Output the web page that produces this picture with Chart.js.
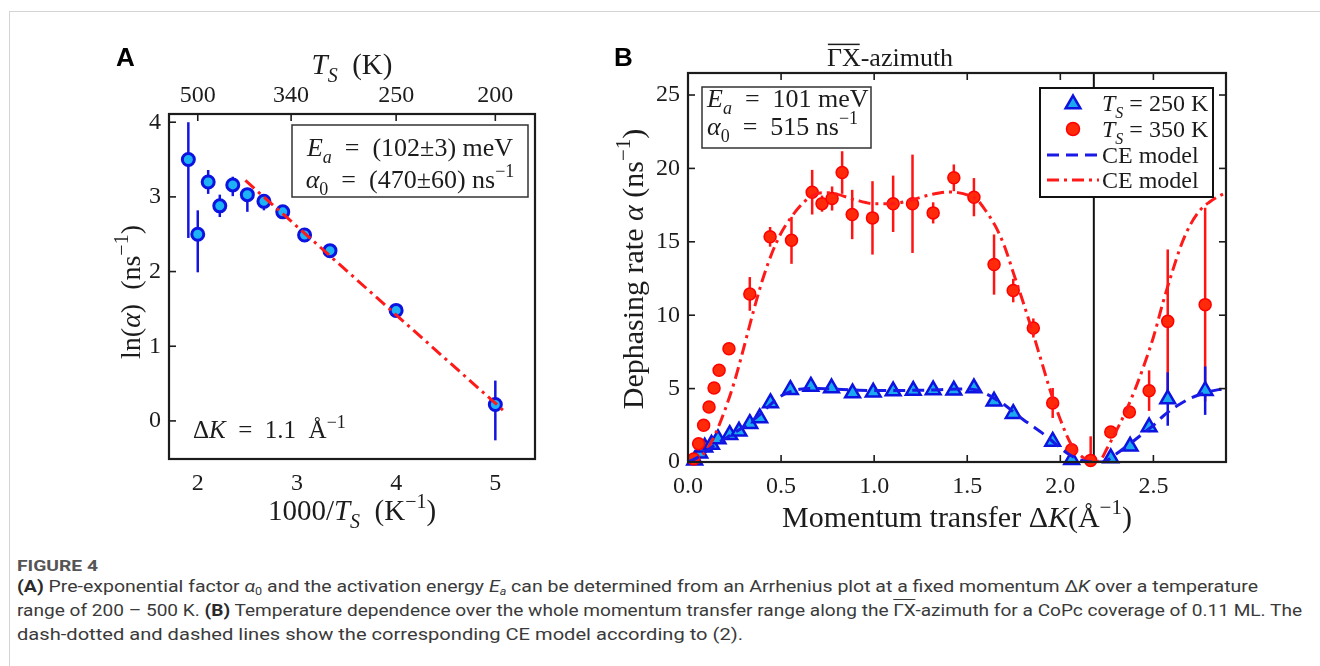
<!DOCTYPE html>
<html>
<head>
<meta charset="utf-8">
<script src="https://cdn.jsdelivr.net/npm/chart.js@4.4.1/dist/chart.umd.min.js"></script>
<style>
body { margin: 0; background: #fff; width: 1320px; height: 666px; overflow: hidden; position: relative; }
.card { position: absolute; left: 9px; top: 11px; width: 1400px; height: 700px; border-left: 1px solid #d4d4d4; border-top: 1px solid #d4d4d4; }
canvas { position: absolute; }
#chartA { left: 60px; top: 30px; }
#chartB { left: 590px; top: 30px; }
.cap { position: absolute; left: 17px; white-space: nowrap; font-family: "Liberation Sans Narrow", Roboto, sans-serif; font-size: 17px; line-height: 20px; color: #3a3a3a; transform-origin: 0 50%; }
.cap sub { font-size: 11px; vertical-align: -3px; line-height: 0; }
.cap b { color: #2a2a2a; }
.fig { font-size: 14px; color: #555; font-weight: bold; }
.ov { text-decoration: overline; }
</style>
</head>
<body>
<div class="card"></div>
<canvas id="chartA" width="510" height="520"></canvas>
<canvas id="chartB" width="680" height="520"></canvas>

<div class="cap fig" style="top:556px" data-w="81">FIGURE 4</div>
<div class="cap" style="top:576px" data-w="1241"><b>(A)</b> Pre-exponential factor <i>α</i><sub>0</sub> and the activation energy <i>E</i><sub><i>a</i></sub> can be determined from an Arrhenius plot at a fixed momentum Δ<i>K</i> over a temperature</div>
<div class="cap" style="top:600px" data-w="1285">range of 200 – 500 K. <b>(B)</b> Temperature dependence over the whole momentum transfer range along the <span class="ov">ΓX</span>-azimuth for a CoPc coverage of 0.11 ML. The</div>
<div class="cap" style="top:624px" data-w="726">dash-dotted and dashed lines show the corresponding CE model according to (2).</div>

<script>
// ---- panel A: Arrhenius plot ----
const invT = [1.905, 2.0, 2.105, 2.222, 2.353, 2.5, 2.667, 2.857, 3.077, 3.333, 4.0, 5.0];
const lnAlpha = [3.50, 2.50, 3.20, 2.88, 3.16, 3.03, 2.94, 2.80, 2.49, 2.28, 1.48, 0.22];
const lnHi = [4.00, 2.82, 3.36, 3.03, 3.27, 3.12, 3.03, 2.84, 2.52, 2.31, 1.50, 0.54];
const lnLo = [2.45, 1.99, 3.04, 2.73, 3.01, 2.80, 2.82, 2.76, 2.46, 2.25, 1.46, -0.26];
const fitX = [2.48, 5.09];
const fitY = [3.22, 0.13];
const xTicksA = [2, 3, 4, 5];
const yTicksA = [0, 1, 2, 3, 4];
const tempTicks = [500, 340, 250, 200];

// ---- panel B: dephasing rate vs momentum transfer ----
const k350 = [0.031, 0.057, 0.084, 0.113, 0.140, 0.167, 0.220, 0.332, 0.441, 0.556, 0.667, 0.720, 0.774, 0.828, 0.882, 0.991,
  1.102, 1.206, 1.317, 1.428, 1.536, 1.644, 1.747, 1.855, 1.959, 2.061, 2.163, 2.271, 2.371, 2.477, 2.577, 2.778];
const rate350 = [0.2, 1.25, 2.5, 3.75, 5.04, 6.25, 7.72, 11.45, 15.34, 15.1, 18.38, 17.6, 17.95, 19.72, 16.86, 16.63,
  17.59, 17.59, 16.97, 19.36, 18.04, 13.45, 11.68, 9.13, 4.02, 0.84, 0.11, 2.04, 3.41, 4.86, 9.58, 10.72];
const err350 = [0, 0, 0, 0, 0, 0, 0, 1.15, 0.67, 1.6, 1.52, 0.55, 0.82, 1.45, 1.68, 2.5,
  1.92, 3.35, 0.72, 0.91, 1.3, 2.05, 0.8, 0.65, 1.02, 0, 1.64, 0, 0, 1.38, 4.9, 6.6];

const k250 = [0.036, 0.063, 0.09, 0.126, 0.161, 0.224, 0.274, 0.332, 0.385, 0.443, 0.55, 0.66, 0.771, 0.884, 0.995,
  1.102, 1.21, 1.317, 1.428, 1.536, 1.644, 1.747, 1.959, 2.061, 2.271, 2.375, 2.477, 2.577, 2.778];
const rate250 = [0.12, 0.6, 1.0, 1.2, 1.57, 1.86, 2.09, 2.61, 3.0, 4.02, 4.93, 5.15, 5.04, 4.7, 4.75,
  4.83, 4.87, 4.9, 4.88, 5.04, 4.13, 3.29, 1.4, 0.16, 0.27, 1.07, 2.38, 4.29, 4.86];
const err250 = [0, 0, 0, 0, 0, 0, 0, 0, 0, 0, 0, 0, 0, 0, 0,
  0, 0, 0, 0, 0, 0, 0, 0, 0, 0, 0, 0.35, 1.82, 1.65];

const modelK = [0, 0.05, 0.1, 0.15, 0.2, 0.25, 0.3, 0.35, 0.4, 0.45, 0.5, 0.55, 0.6, 0.65, 0.7, 0.75, 0.8, 0.9, 1.0, 1.1,
  1.2, 1.3, 1.4, 1.45, 1.5, 1.55, 1.6, 1.65, 1.7, 1.75, 1.8, 1.85, 1.9, 1.95, 2.0, 2.05, 2.1, 2.15, 2.18, 2.22,
  2.25, 2.3, 2.35, 2.4, 2.45, 2.5, 2.55, 2.6, 2.65, 2.7, 2.75, 2.8, 2.85, 2.89];
const model350 = [0, 0.2, 0.8, 2.0, 3.6, 5.5, 7.8, 10.2, 12.4, 14.2, 15.6, 16.6, 17.4, 18.0, 18.3, 18.35, 18.25, 17.85, 17.6, 17.6,
  17.85, 18.2, 18.4, 18.35, 18.2, 17.9, 17.1, 16.1, 14.7, 12.8, 10.9, 8.9, 6.8, 4.7, 2.9, 1.4, 0.55, 0.1, 0, 0.2,
  0.9, 2.1, 3.4, 4.9, 6.6, 8.5, 10.8, 12.9, 14.8, 16.2, 17.15, 17.7, 18.1, 18.35];
const model250 = [0, 0.3, 0.75, 1.2, 1.6, 2.0, 2.4, 2.85, 3.4, 4.0, 4.5, 4.8, 4.95, 5.0, 5.0, 4.98, 4.95, 4.9, 4.87, 4.87,
  4.88, 4.9, 4.95, 4.97, 4.98, 4.9, 4.65, 4.3, 3.9, 3.4, 2.9, 2.45, 2.0, 1.5, 0.95, 0.5, 0.18, 0.02, 0, 0,
  0.1, 0.55, 1.0, 1.5, 2.0, 2.5, 3.1, 3.6, 4.0, 4.35, 4.6, 4.8, 4.93, 5.0];
const gapK = 2.18;
const xTicksB = [0, 0.5, 1, 1.5, 2, 2.5];
const yTicksB = [0, 5, 10, 15, 20, 25];

const SERIF = '"Liberation Serif", "DejaVu Serif", serif';
const INK = '#1c1c1c';
Chart.defaults.font.family = SERIF;
Chart.defaults.font.size = 24;
Chart.defaults.color = INK;

// text with italic / sub / superscript pieces, like the latex labels
function rich(ctx, parts, x, y, size, align) {
    const spec = { r: [0, 1, 0], i: [1, 1, 0], sub: [0, .7, .28], isub: [1, .7, .28], sup: [0, .7, -.42], ov: [0, 1, 0] };
    const items = parts.map(([t, k]) => {
        const [it, sc, dy] = spec[k];
        const f = (it ? 'italic ' : '') + Math.round(size * sc) + 'px ' + SERIF;
        ctx.font = f;
        return { t, k, f, dy: dy * size, w: ctx.measureText(t).width };
    });
    const total = items.reduce((a, b) => a + b.w, 0);
    let cx = align === 'center' ? x - total / 2 : (align === 'right' ? x - total : x);
    ctx.textAlign = 'left';
    ctx.textBaseline = 'alphabetic';
    ctx.fillStyle = INK;
    for (const it of items) {
        ctx.font = it.f;
        ctx.fillText(it.t, cx, y + it.dy);
        if (it.k === 'ov') ctx.fillRect(cx + 1, y - size * 0.86, it.w - 2, 1.5);
        cx += it.w;
    }
    return total;
}

function richUp(ctx, parts, x, y, size) {
    ctx.save();
    ctx.translate(x, y);
    ctx.rotate(-Math.PI / 2);
    rich(ctx, parts, 0, 0, size, 'center');
    ctx.restore();
}

function panelLetter(ctx, t, x, y) {
    ctx.font = 'bold 26px "Liberation Sans", Arial, sans-serif';
    ctx.fillStyle = '#000';
    ctx.textAlign = 'left';
    ctx.textBaseline = 'alphabetic';
    ctx.fillText(t, x, y);
}

// box round the plot + inward tick marks
function drawFrame(chart, marks) {
    const { ctx, chartArea: a } = chart;
    ctx.save();
    ctx.strokeStyle = INK;
    ctx.lineWidth = 1.6;
    marks.forEach(m => {
        const s = chart.scales[m.scale];
        m.values.forEach(v => {
            const p = s.getPixelForValue(v);
            ctx.beginPath();
            if (m.side === 'top') { ctx.moveTo(p, a.top); ctx.lineTo(p, a.top + 7); }
            if (m.side === 'bottom') { ctx.moveTo(p, a.bottom); ctx.lineTo(p, a.bottom - 7); }
            if (m.side === 'left') { ctx.moveTo(a.left, p); ctx.lineTo(a.left + 7, p); }
            if (m.side === 'right') { ctx.moveTo(a.right, p); ctx.lineTo(a.right - 7, p); }
            ctx.stroke();
        });
    });
    ctx.lineWidth = 2.2;
    ctx.strokeRect(a.left, a.top, a.right - a.left, a.bottom - a.top);
    ctx.restore();
}

function errorBars(chart, xs, ys, lo, hi, color) {
    const { ctx, chartArea: a } = chart;
    const sx = chart.scales.x, sy = chart.scales.y;
    ctx.save();
    ctx.beginPath();
    ctx.rect(a.left, a.top, a.right - a.left, a.bottom - a.top);
    ctx.clip();
    ctx.strokeStyle = color;
    ctx.lineWidth = 2.5;
    xs.forEach((x, i) => {
        if (hi[i] === lo[i]) return;
        const px = sx.getPixelForValue(x);
        ctx.beginPath();
        ctx.moveTo(px, sy.getPixelForValue(hi[i]));
        ctx.lineTo(px, sy.getPixelForValue(lo[i]));
        ctx.stroke();
    });
    ctx.restore();
}

const noGrid = { display: false, drawTicks: false };

// ================= A =================
const plotA = {
    id: 'plotA',
    beforeDatasetsDraw(chart) {
        errorBars(chart, invT, lnAlpha, lnLo, lnHi, '#1414e0');
    },
    afterDraw(chart) {
        const ctx = chart.ctx;
        drawFrame(chart, [
            { scale: 'y', side: 'left', values: yTicksA },
            { scale: 'xT', side: 'top', values: tempTicks.map(t => 1000 / t) }
        ]);
        ctx.save();
        ctx.translate(-60, -30);
        panelLetter(ctx, 'A', 116, 66);
        rich(ctx, [['T', 'i'], ['S', 'isub'], ['  (K)', 'r']], 352, 74, 29, 'center');
        rich(ctx, [['1000/', 'r'], ['T', 'i'], ['S', 'isub'], ['  (K', 'r'], ['−1', 'sup'], [')', 'r']], 352, 520, 29, 'center');
        richUp(ctx, [['ln(', 'r'], ['α', 'i'], [')  (ns', 'r'], ['−1', 'sup'], [')', 'r']], 140, 292, 28);
        // fit result box
        ctx.fillStyle = '#fff';
        ctx.fillRect(292, 125, 236, 72);
        ctx.strokeStyle = '#333';
        ctx.lineWidth = 1.5;
        ctx.strokeRect(292, 125, 236, 72);
        rich(ctx, [['E', 'i'], ['a', 'isub'], ['  =  (102±3) meV', 'r']], 410, 156, 26, 'center');
        rich(ctx, [['α', 'i'], ['0', 'sub'], ['  =  (470±60) ns', 'r'], ['−1', 'sup']], 410, 188, 26, 'center');
        rich(ctx, [['Δ', 'r'], ['K', 'i'], ['  =  1.1  Å', 'r'], ['−1', 'sup']], 193, 438, 25, 'left');
        ctx.restore();
    }
};

new Chart(document.getElementById('chartA'), {
    type: 'scatter',
    data: {
        datasets: [{
            type: 'line',
            data: fitX.map((x, i) => ({ x: x, y: fitY[i] })),
            borderColor: '#ff1a1a',
            borderWidth: 3,
            borderDash: [12, 5, 3, 5],
            pointRadius: 0,
            clip: false,
            order: 0
        }, {
            data: invT.map((x, i) => ({ x: x, y: lnAlpha[i] })),
            pointRadius: 6,
            pointBorderWidth: 3,
            backgroundColor: '#1db2f5',
            borderColor: '#0c12e0',
            clip: false,
            order: 1
        }]
    },
    options: {
        responsive: false,
        animation: false,
        layout: { padding: { right: 35 } },
        plugins: { legend: { display: false }, tooltip: { enabled: false } },
        scales: {
            x: {
                type: 'linear', position: 'bottom', min: 1.71, max: 5.4,
                grid: noGrid, border: { display: false },
                afterBuildTicks: s => { s.ticks = xTicksA.map(v => ({ value: v })); },
                afterFit: s => { s.height = 91; },
                ticks: { padding: 10 }
            },
            xT: {
                type: 'linear', position: 'top', min: 1.71, max: 5.4,
                grid: noGrid, border: { display: false },
                afterBuildTicks: s => { s.ticks = tempTicks.map(t => ({ value: 1000 / t })); },
                afterFit: s => { s.height = 84; },
                ticks: { padding: 4, callback: (v, i) => tempTicks[i] }
            },
            y: {
                min: -0.51, max: 4.11,
                grid: noGrid, border: { display: false },
                afterBuildTicks: s => { s.ticks = yTicksA.map(v => ({ value: v })); },
                afterFit: s => { s.width = 109; },
                ticks: { padding: 8 }
            }
        }
    },
    plugins: [plotA]
});

// ================= B =================
const plotB = {
    id: 'plotB',
    beforeDatasetsDraw(chart) {
        errorBars(chart, k350, rate350, rate350.map((v, i) => v - err350[i]), rate350.map((v, i) => v + err350[i]), '#ff1414');
        errorBars(chart, k250, rate250, rate250.map((v, i) => v - err250[i]), rate250.map((v, i) => v + err250[i]), '#1414e0');
    },
    afterDraw(chart) {
        const ctx = chart.ctx;
        drawFrame(chart, [
            { scale: 'y', side: 'left', values: yTicksB },
            { scale: 'y', side: 'right', values: yTicksB },
            { scale: 'x', side: 'top', values: xTicksB },
            { scale: 'x', side: 'bottom', values: xTicksB }
        ]);
        ctx.save();
        ctx.translate(-590, -30);
        panelLetter(ctx, 'B', 614, 66);
        rich(ctx, [['ΓX', 'ov'], ['-azimuth', 'r']], 890, 66, 26, 'center');
        rich(ctx, [['Momentum transfer Δ', 'r'], ['K', 'i'], ['(Å', 'r'], ['−1', 'sup'], [')', 'r']], 957, 527, 30, 'center');
        richUp(ctx, [['Dephasing rate ', 'r'], ['α', 'i'], [' (ns', 'r'], ['−1', 'sup'], [')', 'r']], 643, 269, 30);

        // activation energy box
        ctx.fillStyle = '#fff';
        ctx.fillRect(702, 87, 169, 61);
        ctx.strokeStyle = '#333';
        ctx.lineWidth = 1.5;
        ctx.strokeRect(702, 87, 169, 61);
        rich(ctx, [['E', 'i'], ['a', 'isub'], ['  =  101 meV', 'r']], 707, 107, 26, 'left');
        rich(ctx, [['α', 'i'], ['0', 'sub'], ['  =  515 ns', 'r'], ['−1', 'sup']], 707, 135, 26, 'left');

        // legend
        ctx.fillStyle = '#fff';
        ctx.fillRect(1040, 88, 173, 109);
        ctx.strokeStyle = '#111';
        ctx.lineWidth = 2;
        ctx.strokeRect(1040, 88, 173, 109);
        ctx.fillStyle = '#1aa8ee'; ctx.strokeStyle = '#0c12e0'; ctx.lineWidth = 2.5;
        Chart.helpers.drawPoint(ctx, { pointStyle: 'triangle', radius: 8.5, rotation: 0, borderWidth: 2.5 }, 1073, 104);
        ctx.fillStyle = '#ff2a0a'; ctx.strokeStyle = '#ff0000'; ctx.lineWidth = 1.5;
        Chart.helpers.drawPoint(ctx, { pointStyle: 'circle', radius: 6.5, rotation: 0, borderWidth: 1.5 }, 1073, 129);
        ctx.lineWidth = 3;
        ctx.strokeStyle = '#1a1ae6';
        ctx.setLineDash([12, 7]);
        ctx.beginPath(); ctx.moveTo(1047, 155); ctx.lineTo(1099, 155); ctx.stroke();
        ctx.strokeStyle = '#ff1a1a';
        ctx.setLineDash([12, 5, 3, 5]);
        ctx.beginPath(); ctx.moveTo(1047, 180); ctx.lineTo(1099, 180); ctx.stroke();
        ctx.setLineDash([]);
        rich(ctx, [['T', 'i'], ['S', 'isub'], [' = 250 K', 'r']], 1102, 111, 23.5, 'left');
        rich(ctx, [['T', 'i'], ['S', 'isub'], [' = 350 K', 'r']], 1102, 137, 23.5, 'left');
        rich(ctx, [['CE model', 'r']], 1102, 163, 23.5, 'left');
        rich(ctx, [['CE model', 'r']], 1102, 188, 23.5, 'left');
        ctx.restore();
    }
};

const yMaxB = 26.5;

new Chart(document.getElementById('chartB'), {
    type: 'scatter',
    data: {
        datasets: [{
            type: 'line',
            data: [{ x: gapK, y: 0 }, { x: gapK, y: yMaxB }],
            borderColor: '#111',
            borderWidth: 2,
            pointRadius: 0,
            order: 5
        }, {
            type: 'line',
            data: modelK.map((x, i) => ({ x: x, y: model250[i] })),
            borderColor: '#1a1ae6',
            borderWidth: 3,
            borderDash: [12, 7],
            pointRadius: 0,
            cubicInterpolationMode: 'monotone',
            order: 0
        }, {
            type: 'line',
            data: modelK.map((x, i) => ({ x: x, y: model350[i] })),
            borderColor: '#ff1a1a',
            borderWidth: 3,
            borderDash: [12, 5, 3, 5],
            pointRadius: 0,
            cubicInterpolationMode: 'monotone',
            order: 0
        }, {
            data: k250.map((x, i) => ({ x: x, y: rate250[i] })),
            pointStyle: 'triangle',
            pointRadius: 8.5,
            pointBorderWidth: 2.5,
            backgroundColor: '#1aa8ee',
            borderColor: '#0c12e0',
            clip: false,
            order: 2
        }, {
            data: k350.map((x, i) => ({ x: x, y: rate350[i] })),
            pointRadius: 6,
            pointBorderWidth: 1.5,
            backgroundColor: '#ff2a0a',
            borderColor: '#ff0000',
            clip: false,
            order: 1
        }]
    },
    options: {
        responsive: false,
        animation: false,
        layout: { padding: { top: 43, right: 44 } },
        plugins: { legend: { display: false }, tooltip: { enabled: false } },
        scales: {
            x: {
                type: 'linear', min: 0, max: 2.89,
                grid: noGrid, border: { display: false },
                afterBuildTicks: s => { s.ticks = xTicksB.map(v => ({ value: v })); },
                afterFit: s => { s.height = 88; },
                ticks: { padding: 10, callback: v => v.toFixed(1) }
            },
            y: {
                min: 0, max: yMaxB,
                grid: noGrid, border: { display: false },
                afterBuildTicks: s => { s.ticks = yTicksB.map(v => ({ value: v })); },
                afterFit: s => { s.width = 98; },
                ticks: { padding: 8 }
            }
        }
    },
    plugins: [plotB]
});

// caption lines: squeeze to the widths of the printed caption
document.querySelectorAll('.cap').forEach(el => {
    const w = el.getBoundingClientRect().width;
    el.style.transform = 'scaleX(' + (el.dataset.w / w) + ')';
});
</script>
</body>
</html>
